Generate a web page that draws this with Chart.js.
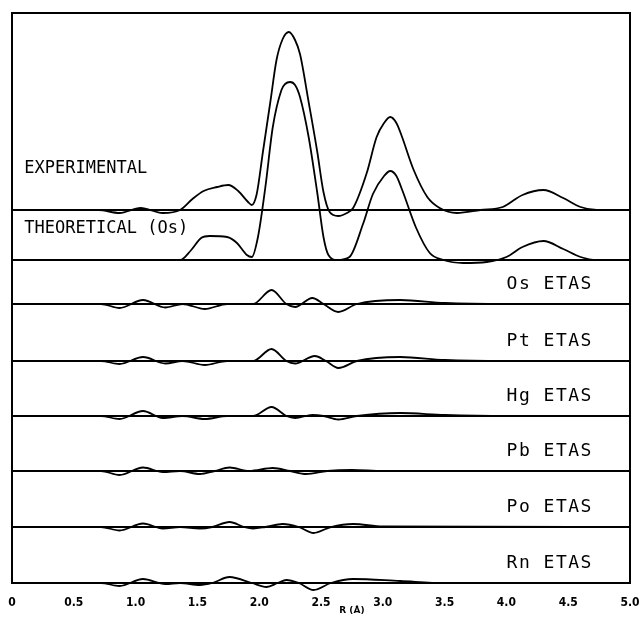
<!DOCTYPE html>
<html>
<head>
<meta charset="utf-8">
<script src="https://cdn.jsdelivr.net/npm/chart.js@4.4.1/dist/chart.umd.min.js"></script>
<style>
  body { margin: 0; background: #fff; }
</style>
</head>
<body>
<canvas id="mycanvas" width="643" height="617"></canvas>
<script>
// R (Angstrom) key points and amplitudes (arbitrary units, up = positive)
var expR   = [0, 0.7, 0.87, 1.04, 1.22, 1.36, 1.46, 1.55, 1.66, 1.75, 1.83, 1.91, 1.94, 1.98, 2.03, 2.09, 2.14, 2.19, 2.24, 2.29, 2.33, 2.40, 2.47, 2.52, 2.57, 2.64, 2.71, 2.76, 2.87, 2.95, 3.01, 3.06, 3.11, 3.15, 3.25, 3.36, 3.46, 3.60, 3.79, 3.97, 4.13, 4.30, 4.46, 4.60, 4.73, 5.0];
var expAmp = [0, 0, -3, 2, -3, 0, 11, 19, 23, 25, 19, 8, 5, 16, 58, 108, 150, 171, 178, 170, 156, 108, 58, 18, -2, -6, -3, 2, 37, 73, 87, 93, 87, 75, 40, 13, 2, -3, 0, 3, 15, 20, 12, 3, 0, 0];

var theoR   = [0, 1.36, 1.45, 1.53, 1.60, 1.74, 1.82, 1.90, 1.94, 1.99, 2.05, 2.11, 2.18, 2.21, 2.25, 2.29, 2.33, 2.40, 2.47, 2.52, 2.56, 2.63, 2.73, 2.84, 2.92, 3.01, 3.06, 3.11, 3.16, 3.27, 3.38, 3.49, 3.65, 3.84, 4.00, 4.13, 4.30, 4.46, 4.60, 4.73, 5.0];
var theoAmp = [0, 0, 10, 22, 24, 23, 17, 5, 3, 23, 73, 133, 170, 176, 178, 175, 163, 123, 67, 23, 5, 0, 3, 36, 66, 84, 89, 84, 69, 32, 7, 0, -3, -2, 3, 13, 19, 11, 3, 0, 0];

var osR   = [0, 0.72, 0.87, 1.06, 1.24, 1.38, 1.56, 1.74, 1.95, 2.10, 2.22, 2.29, 2.43, 2.52, 2.64, 2.79, 3.14, 3.5, 4.0, 5.0];
var osAmp = [0, 0, -4, 4, -3.5, 0, -5, 0, 0, 14, 0, -3, 6, 0, -8, 0, 4, 1, 0, 0];

var ptR   = [0, 0.72, 0.87, 1.06, 1.24, 1.38, 1.56, 1.74, 1.95, 2.10, 2.22, 2.29, 2.45, 2.54, 2.64, 2.79, 3.14, 3.5, 4.0, 5.0];
var ptAmp = [0, 0, -3, 4, -2.5, 0, -4, 0, 0, 12, 0, -2.5, 5, 0, -7, 0, 4, 1, 0, 0];

var hgR   = [0, 0.72, 0.87, 1.06, 1.22, 1.38, 1.56, 1.74, 1.95, 2.10, 2.22, 2.29, 2.43, 2.52, 2.64, 2.79, 3.14, 3.5, 4.0, 5.0];
var hgAmp = [0, 0, -3, 5, -2, 0, -3, 0, 0, 9, 0, -2, 1, 0, -3.5, 0, 3, 1, 0, 0];

var pbR   = [0, 0.72, 0.87, 1.06, 1.22, 1.36, 1.52, 1.64, 1.76, 1.92, 2.11, 2.25, 2.38, 2.55, 2.75, 3.0, 5.0];
var pbAmp = [0, 0, -4, 3.5, -1, 0, -3, 0, 3.5, 0, 3, 0, -3, 0, 1, 0, 0];

var poR   = [0, 0.72, 0.87, 1.06, 1.22, 1.36, 1.52, 1.62, 1.76, 1.88, 1.95, 2.05, 2.19, 2.32, 2.44, 2.58, 2.76, 3.0, 5.0];
var poAmp = [0, 0, -3.5, 3.5, -1.5, 0, -1.5, 0, 5, 0, -1.5, 0, 3, 0, -6, 0, 3, 0.5, 0];

var rnR   = [0, 0.72, 0.87, 1.06, 1.24, 1.36, 1.52, 1.62, 1.76, 1.94, 2.06, 2.15, 2.22, 2.32, 2.44, 2.58, 2.76, 3.14, 3.5, 5.0];
var rnAmp = [0, 0, -3, 4, -1, 0, -2, 0, 6, 0, -4, 0, 3, 0, -7, 0, 4, 2, 0, 0];

// vertical offset of each trace's zero line
var traceNames = ["EXPERIMENTAL", "THEORETICAL (Os)", "Os ETAS", "Pt ETAS", "Hg ETAS", "Pb ETAS", "Po ETAS", "Rn ETAS"];
var baselines  = [373, 323, 279, 222, 167, 112, 56, 0];
var xTicks     = [0, 0.5, 1.0, 1.5, 2.0, 2.5, 3.0, 3.5, 4.0, 4.5, 5.0];

var traceR   = [expR, theoR, osR, ptR, hgR, pbR, poR, rnR];
var traceAmp = [expAmp, theoAmp, osAmp, ptAmp, hgAmp, pbAmp, poAmp, rnAmp];

var datasets = [];
for (let i = 0; i < traceR.length; i++) {
    // zero line
    datasets.push({
        data: [{x: 0, y: baselines[i]}, {x: 5, y: baselines[i]}],
        borderColor: "#000",
        borderWidth: 2,
        pointRadius: 0,
        clip: false
    });
    var pts = [];
    for (let j = 0; j < traceR[i].length; j++) {
        pts.push({x: traceR[i][j], y: baselines[i] + traceAmp[i][j]});
    }
    datasets.push({
        data: pts,
        borderColor: "#000",
        borderWidth: 1.8,
        pointRadius: 0,
        cubicInterpolationMode: "monotone",
        clip: false
    });
}

var decor = {
    id: "decor",
    afterDraw: function(chart) {
        var c = chart.ctx, a = chart.chartArea;
        var xs = chart.scales.x, ys = chart.scales.y;
        c.save();
        c.strokeStyle = "#000";
        c.lineWidth = 2;
        c.strokeRect(a.left, a.top, a.right - a.left, a.bottom - a.top);

        c.fillStyle = "#000";
        c.textBaseline = "middle";
        c.font = '17px "DejaVu Sans Mono", monospace';
        // left labels for the two top traces
        c.textAlign = "left";
        c.fillText(traceNames[0], xs.getPixelForValue(0.1), ys.getPixelForValue(baselines[0] + 41));
        c.fillText(traceNames[1], xs.getPixelForValue(0.1), ys.getPixelForValue(baselines[1] + 31));
        // right labels for the ETAS traces
        c.textAlign = "right";
        c.font = '18px "DejaVu Sans Mono", monospace';
        c.letterSpacing = "1.5px";
        for (let i = 2; i < traceNames.length; i++) {
            c.fillText(traceNames[i], xs.getPixelForValue(4.70), ys.getPixelForValue(baselines[i] + 20));
        }
        c.letterSpacing = "0px";
        // axis title
        c.textAlign = "center";
        c.font = 'bold 9px "DejaVu Sans", sans-serif';
        c.fillText("R (Å)", xs.getPixelForValue(2.75), 611);
        c.restore();
    }
};

var ctx = document.getElementById("mycanvas");
var chart = new Chart(ctx, {
    type: "line",
    data: { datasets: datasets },
    options: {
        responsive: false,
        animation: false,
        layout: { padding: { left: 12, right: 13, top: 13, bottom: 0 } },
        plugins: { legend: { display: false }, tooltip: { enabled: false } },
        scales: {
            x: {
                type: "linear",
                min: 0,
                max: 5,
                afterFit: function(scale) {
                    scale.height = 34;
                    scale.paddingLeft = 0;
                    scale.paddingRight = 0;
                },
                afterBuildTicks: function(scale) {
                    scale.ticks = xTicks.map(function(v) { return {value: v}; });
                },
                grid: { display: false, drawTicks: false },
                border: { display: false },
                ticks: {
                    padding: 13,
                    color: "#000",
                    font: { family: "DejaVu Sans Condensed, DejaVu Sans", size: 12, weight: "bold" },
                    callback: function(v) { return v === 0 ? "0" : v.toFixed(1); }
                }
            },
            y: {
                display: false,
                min: 0,
                max: 570
            }
        }
    },
    plugins: [decor]
});
</script>
</body>
</html>
